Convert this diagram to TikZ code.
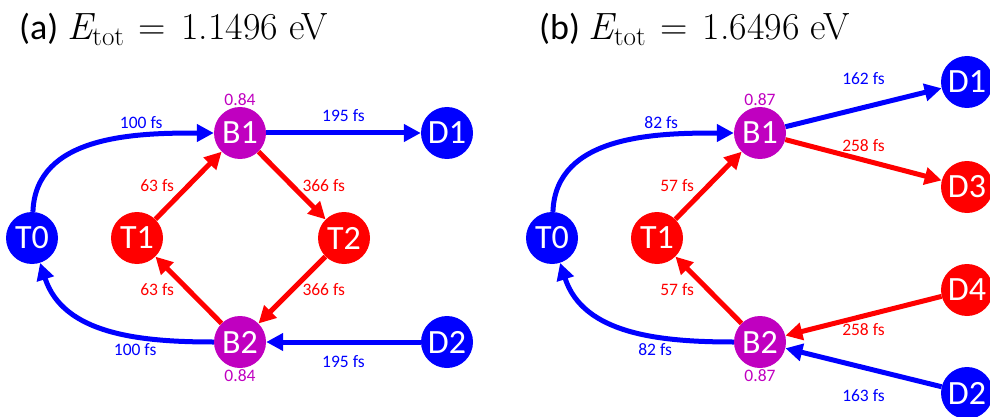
\documentclass[tikz,border=0pt]{standalone}
\usepackage{fontspec}
\setmainfont{Carlito}
\newfontfamily\lmf{Latin Modern Roman}
\usetikzlibrary{arrows.meta}
\definecolor{myblue}{RGB}{0,0,255}
\definecolor{myred}{RGB}{255,0,0}
\definecolor{mymag}{RGB}{192,0,192}
\newcommand{\etot}[1]{(#1)\hspace{9pt}{\lmf\fontsize{38}{38}\selectfont\itshape E}\raisebox{-6pt}{\lmf\fontsize{27}{27}\selectfont tot}\hspace{15pt}{\lmf\fontsize{38}{38}\selectfont =}\hspace{15pt}}
\tikzset{
  st/.style={circle, minimum size=52pt, inner sep=0pt, text=white, font=\fontsize{34}{34}\selectfont},
  bst/.style={st, fill=myblue},
  rst/.style={st, fill=myred},
  mst/.style={st, fill=mymag},
  arr/.style={line width=5pt, -{Triangle[length=17pt,width=17pt]}},
  barr/.style={arr, myblue},
  rarr/.style={arr, myred},
  lbl/.style={font=\fontsize{17.5}{18}\selectfont, inner sep=1pt},
  blbl/.style={lbl, text=myblue},
  rlbl/.style={lbl, text=myred},
  mlbl/.style={lbl, text=mymag},
  ttl/.style={font=\fontsize{36}{36}\selectfont, inner sep=0pt, anchor=base west}
}
\begin{document}
\begin{tikzpicture}[x=1pt,y=-1pt]
\clip (0,0) rectangle (990,417);
% titles
\node[ttl] (ta) at (19,40) {\etot{a}{\lmf\fontsize{38}{38}\selectfont 1.1496\hspace{11pt}eV}};
\node[ttl] (tb) at (539,40) {\etot{b}{\lmf\fontsize{38}{38}\selectfont 1.6496\hspace{11pt}eV}};
% panel a
\node[bst] (aT0) at (32,238) {T0};
\node[rst] (aT1) at (137,238) {T1};
\node[mst] (aB1) at (240,133) {B1};
\node[mst] (aB2) at (240,342) {B2};
\node[rst] (aT2) at (344,238) {T2};
\node[bst] (aD1) at (447,133) {D1};
\node[bst] (aD2) at (447,342) {D2};
\node[mlbl, anchor=south] (aw1) at (aB1.north) {0.84};
\node[mlbl, anchor=north] (aw2) at (aB2.south) {0.84};
\draw[barr] (aT0) to[out=88,in=180] node[blbl, pos=0.7, above=3pt] {100 fs} (aB1);
\draw[rarr] (aT1) -- node[rlbl, left=11pt] {63 fs} (aB1);
\draw[barr] (aB1) -- node[blbl, above=8pt] {195 fs} (aD1);
\draw[rarr] (aB1) -- node[rlbl, right=7pt] {366 fs} (aT2);
\draw[rarr] (aT2) -- node[rlbl, right=7pt] {366 fs} (aB2);
\draw[rarr] (aB2) -- node[rlbl, left=11pt] {63 fs} (aT1);
\draw[barr] (aB2) to[out=180,in=-72] node[blbl, pos=0.36, below=4pt] {100 fs} (aT0);
\draw[barr] (aD2) -- node[blbl, below=10pt] {195 fs} (aB2);
% panel b
\node[bst] (bT0) at (552,238) {T0};
\node[rst] (bT1) at (657,238) {T1};
\node[mst] (bB1) at (760,133) {B1};
\node[mst] (bB2) at (760,342) {B2};
\node[bst] (bD1) at (967,82) {D1};
\node[rst] (bD3) at (967,187) {D3};
\node[rst] (bD4) at (967,290) {D4};
\node[bst] (bD2) at (967,393) {D2};
\node[mlbl, anchor=south] (bw1) at (bB1.north) {0.87};
\node[mlbl, anchor=north] (bw2) at (bB2.south) {0.87};
\draw[barr] (bT0) to[out=88,in=180] node[blbl, pos=0.7, above=3pt] {82 fs} (bB1);
\draw[rarr] (bT1) -- node[rlbl, left=11pt] {57 fs} (bB1);
\draw[barr] (bB1) -- node[blbl, above=19pt] {162 fs} (bD1);
\draw[rarr] (bB1) -- node[rlbl, above=5pt] {258 fs} (bD3);
\draw[rarr] (bD4) -- node[rlbl, below=4pt] {258 fs} (bB2);
\draw[rarr] (bB2) -- node[rlbl, left=11pt] {57 fs} (bT1);
\draw[barr] (bB2) to[out=180,in=-72] node[blbl, pos=0.36, below=4pt] {82 fs} (bT0);
\draw[barr] (bD2) -- node[blbl, below=18pt] {163 fs} (bB2);
\end{tikzpicture}
\end{document}
